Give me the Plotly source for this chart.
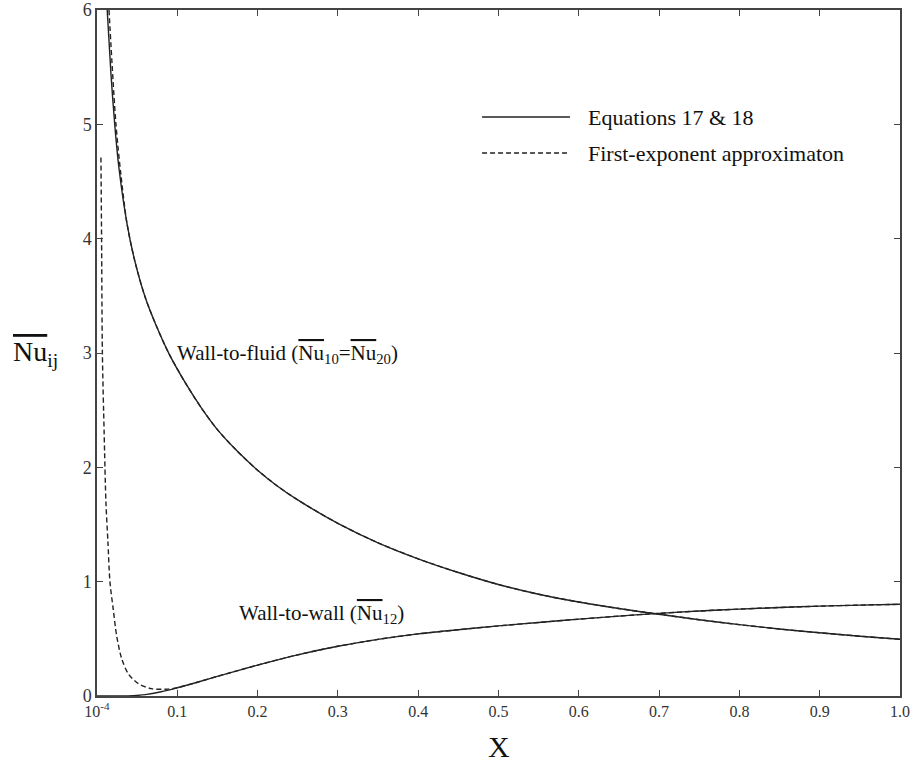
import plotly.graph_objects as go

# ---- data ----
x_fluid = [0.0128, 0.0174, 0.0224, 0.0274, 0.0375, 0.047, 0.060, 0.075, 0.090, 0.110,
           0.130, 0.150, 0.175, 0.200, 0.225, 0.250, 0.300, 0.350, 0.400, 0.450, 0.500,
           0.550, 0.600, 0.650, 0.700, 0.750, 0.800, 0.850, 0.900, 0.950, 1.000]
nu_fluid = [6.00, 5.45, 4.98, 4.62, 4.13, 3.81, 3.49, 3.22, 2.99, 2.74,
            2.52, 2.33, 2.14, 1.975, 1.835, 1.715, 1.51, 1.34, 1.20, 1.08, 0.975,
            0.89, 0.822, 0.765, 0.715, 0.667, 0.624, 0.586, 0.553, 0.523, 0.496]

x_wall = [0.0001, 0.030, 0.045, 0.060, 0.080, 0.100, 0.125, 0.150, 0.200, 0.250,
          0.300, 0.350, 0.400, 0.450, 0.500, 0.550, 0.600, 0.650, 0.700, 0.750,
          0.800, 0.850, 0.900, 0.950, 1.000]
nu_wall = [0.0, 0.0, 0.003, 0.012, 0.037, 0.072, 0.120, 0.172, 0.270, 0.360,
           0.435, 0.495, 0.543, 0.580, 0.613, 0.643, 0.672, 0.699, 0.723, 0.743,
           0.760, 0.774, 0.786, 0.795, 0.802]

x_fluid_approx = [0.0150, 0.0237, 0.0300, 0.0375, 0.047, 0.060, 0.075, 0.090, 0.110,
                  0.130, 0.150, 0.175, 0.200, 0.225, 0.250, 0.300, 0.350, 0.400, 0.450, 0.500,
                  0.550, 0.600, 0.650, 0.700, 0.750, 0.800, 0.850, 0.900, 0.950, 1.000]
nu_fluid_approx = [6.00, 5.00, 4.55, 4.13, 3.81, 3.49, 3.22, 2.99, 2.74,
                   2.52, 2.33, 2.14, 1.975, 1.835, 1.715, 1.51, 1.34, 1.20, 1.08, 0.975,
                   0.89, 0.822, 0.765, 0.715, 0.667, 0.624, 0.586, 0.553, 0.523, 0.496]

x_wall_approx = [0.0050, 0.0058, 0.0068, 0.0090, 0.0112, 0.0137, 0.0162, 0.0203, 0.0245,
                 0.0307, 0.039, 0.0515, 0.068, 0.089, 0.100, 0.125, 0.150, 0.200, 0.250,
                 0.300, 0.350, 0.400, 0.450, 0.500, 0.550, 0.600, 0.650, 0.700, 0.750,
                 0.800, 0.850, 0.900, 0.950, 1.000]
nu_wall_approx = [4.71, 4.00, 3.00, 2.30, 1.70, 1.35, 1.00, 0.76, 0.53,
                  0.33, 0.195, 0.108, 0.064, 0.060, 0.072, 0.120, 0.172, 0.270, 0.360,
                  0.435, 0.495, 0.543, 0.580, 0.613, 0.643, 0.672, 0.699, 0.723, 0.743,
                  0.760, 0.774, 0.786, 0.795, 0.802]

x_tickvals = [0.0001, 0.1, 0.2, 0.3, 0.4, 0.5, 0.6, 0.7, 0.8, 0.9, 1.0]
x_ticktext = ["10<sup>-4</sup>", "0.1", "0.2", "0.3", "0.4", "0.5", "0.6", "0.7", "0.8", "0.9", "1.0"]
y_tickvals = [0, 1, 2, 3, 4, 5, 6]
y_ticktext = ["0", "1", "2", "3", "4", "5", "6"]

legend_labels = ["Equations 17 & 18", "First-exponent approximaton"]

FONT = "Liberation Serif, Times New Roman, serif"
LINE = "#222222"
AX = "#444444"
OL = "<span style='text-decoration:overline'>Nu</span>"

fig = go.Figure()
for xs, ys, dash in [(x_fluid, nu_fluid, "solid"), (x_wall, nu_wall, "solid"),
                     (x_fluid_approx, nu_fluid_approx, "5px,3px"),
                     (x_wall_approx, nu_wall_approx, "5px,3px")]:
    fig.add_trace(go.Scatter(x=xs, y=ys, mode="lines",
                             line=dict(color=LINE, width=1.4, dash=dash, shape="spline", smoothing=0.8),
                             showlegend=False, hoverinfo="skip"))

axis_common = dict(showline=True, linecolor=AX, linewidth=1.5, mirror="ticks",
                   ticks="inside", ticklen=6, tickwidth=1.2, tickcolor=AX,
                   showgrid=False, zeroline=False, automargin=False)

fig.update_xaxes(range=[0.0001, 1.0], tickmode="array", tickvals=x_tickvals,
                 ticktext=x_ticktext, tickfont=dict(family=FONT, size=16, color="#333333"),
                 **axis_common)
fig.update_yaxes(range=[0, 6], tickmode="array", tickvals=y_tickvals,
                 ticktext=y_ticktext, tickfont=dict(family=FONT, size=18, color="#333333"),
                 **axis_common)

# legend drawn manually
fig.add_shape(type="line", xref="paper", yref="paper", x0=0.4795, x1=0.589, y0=0.844, y1=0.844,
              line=dict(color=LINE, width=1.4))
fig.add_shape(type="line", xref="paper", yref="paper", x0=0.4795, x1=0.589, y0=0.7915, y1=0.7915,
              line=dict(color=LINE, width=1.4, dash="5px,3px"))
for lab, yp in zip(legend_labels, [0.844, 0.7915]):
    fig.add_annotation(text=lab, xref="paper", yref="paper", x=0.609, y=yp,
                       xanchor="left", yanchor="middle", showarrow=False,
                       font=dict(family=FONT, size=22, color="#111111"))

fig.add_annotation(text="Wall-to-fluid (" + OL + "<sub>10</sub>=" + OL + "<sub>20</sub>)",
                   x=0.097, y=2.99, xanchor="left", yanchor="middle", showarrow=False,
                   font=dict(family=FONT, size=21, color="#111111"))
fig.add_annotation(text="Wall-to-wall (" + OL + "<sub>12</sub>)",
                   x=0.174, y=0.72, xanchor="left", yanchor="middle", showarrow=False,
                   font=dict(family=FONT, size=21, color="#111111"))

# axis titles
fig.add_annotation(text="X", xref="paper", yref="paper", x=0.5, y=-0.074,
                   xanchor="center", yanchor="middle", showarrow=False,
                   font=dict(family=FONT, size=30, color="#111111"))
fig.add_annotation(text=OL + "<sub>ij</sub>", xref="paper", yref="paper", x=-0.077, y=0.5,
                   xanchor="center", yanchor="middle", showarrow=False,
                   font=dict(family=FONT, size=28, color="#111111"))

fig.update_layout(width=914, height=763, margin=dict(l=97, r=14, t=10, b=67),
                  paper_bgcolor="white", plot_bgcolor="white", showlegend=False)

fig.write_html("out.html", config={"displayModeBar": False},
               post_script="document.body.style.margin='0';")
